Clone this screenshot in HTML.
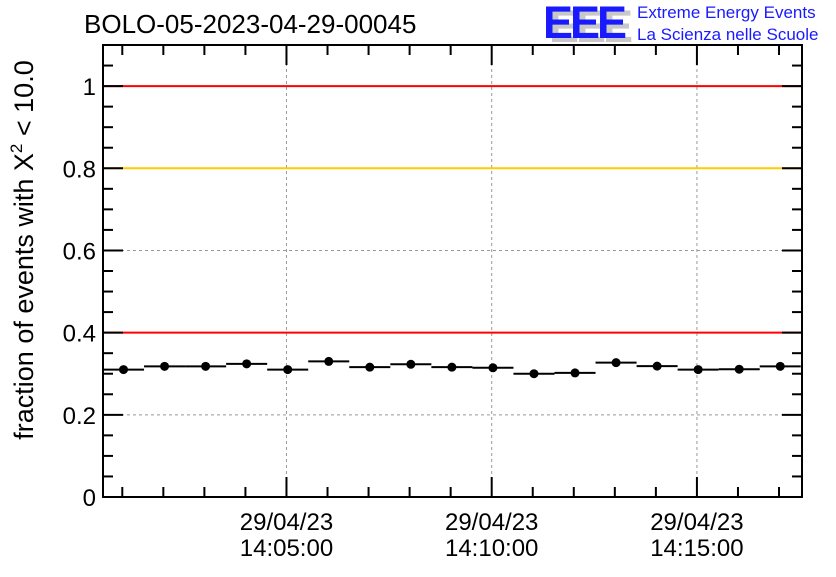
<!DOCTYPE html>
<html><head><meta charset="utf-8"><style>
body{margin:0;background:#fff;}
svg text{font-family:"Liberation Sans",Arial,sans-serif;}
</style></head><body>
<svg id="c" width="836" height="572" xmlns="http://www.w3.org/2000/svg">
<rect width="836" height="572" fill="#fff"/>
<text x="84" y="33" font-size="26">BOLO-05-2023-04-29-00045</text>
<g>
<text x="549" y="42" font-size="45" font-weight="bold" fill="#c8c8c8" letter-spacing="-3">EEE</text>
<text x="543" y="38" font-size="45" font-weight="bold" fill="#1a1aff" letter-spacing="-3">EEE</text>
<text x="637" y="18" font-size="17" fill="#1a1aff">Extreme Energy Events</text>
<text x="637" y="40" font-size="17" fill="#1a1aff">La Scienza nelle Scuole</text>
</g>
<g id="grid"></g>
<g id="lines"></g>
<g id="axes"></g>
<g id="marks"></g>
<text transform="translate(33,250) rotate(-90)" text-anchor="middle" font-size="27">fraction of events with X<tspan dy="-11" font-size="17">2</tspan><tspan dy="11"> &lt; 10.0</tspan></text>
</svg>
<script>
const minutes=[0,1,2,3,4,5,6,7,8,9,10,11,12,13,14,15,16];
const values=[0.310,0.318,0.318,0.324,0.310,0.330,0.316,0.323,0.316,0.3145,0.300,0.302,0.327,0.3185,0.310,0.311,0.318];
const yTicks=[0,0.2,0.4,0.6,0.8,1];
const yTickLabels=["0","0.2","0.4","0.6","0.8","1"];
const xTickMinutes=[5,10,15];
const xTickLabels=[["29/04/23","14:05:00"],["29/04/23","14:10:00"],["29/04/23","14:15:00"]];
const refLines=[1,0.8,0.4];
const refColors=["#ff0000","#ffcc00","#ff0000"];
const L=103,R=802,T=45,B=497;
const x0min=0.53,x1min=17.56;
function X(m){return L+(m-x0min)/(x1min-x0min)*(R-L);}
function Y(v){return B-v/1.1*(B-T);}
const ns="http://www.w3.org/2000/svg";
function mk(tag,a,p){const e=document.createElementNS(ns,tag);for(const k in a)e.setAttribute(k,a[k]);p.appendChild(e);return e;}
const grid=document.getElementById('grid'),lines=document.getElementById('lines'),axes=document.getElementById('axes'),marks=document.getElementById('marks');
xTickMinutes.forEach(m=>{const l=mk('line',{x1:X(m),x2:X(m),y1:T,y2:B,stroke:'#999','stroke-dasharray':'3,3','stroke-width':1},grid);

});
yTicks.forEach(v=>{if(v>0){const l=mk('line',{x1:L,x2:R,y1:Y(v),y2:Y(v),stroke:'#999','stroke-dasharray':'3,3','stroke-width':1},grid);

}});
refLines.forEach((v,i)=>{const l=mk('line',{x1:L,x2:R,y1:Y(v),y2:Y(v),stroke:refColors[i],'stroke-width':2},lines);

});
const fr=mk('rect',{x:L,y:T,width:R-L,height:B-T,fill:'none',stroke:'#000','stroke-width':2},axes);


for(let k=0;k<=22;k++){const v=k*0.05;const y=Y(v);const len=(k%4==0)?20:10;
mk('line',{x1:L,x2:L+len,y1:y,y2:y,stroke:'#000','stroke-width':2},axes);
mk('line',{x1:R,x2:R-len,y1:y,y2:y,stroke:'#000','stroke-width':2},axes);}
yTicks.forEach((v,i)=>{const t=mk('text',{x:L-7,y:Y(v)+9,'text-anchor':'end','font-size':24},axes);t.textContent=yTickLabels[i];

});
for(let m=1;m<=17;m++){const x=X(m);const len=(m%5==0)?20:10;
mk('line',{x1:x,x2:x,y1:B,y2:B-len,stroke:'#000','stroke-width':2},axes);
mk('line',{x1:x,x2:x,y1:T,y2:T+len,stroke:'#000','stroke-width':2},axes);}
xTickMinutes.forEach((m,i)=>{[0,1].forEach(j=>{const t=mk('text',{x:X(m),y:530+j*26,'text-anchor':'middle','font-size':24},axes);t.textContent=xTickLabels[i][j];

});});
minutes.forEach((m,i)=>{const xc=X(m+1.03);const y=Y(values[i]);
const e=mk('line',{x1:X(m+0.53),x2:X(m+1.53),y1:y,y2:y,stroke:'#000','stroke-width':2},marks);


const p=mk('circle',{cx:xc,cy:y,r:4.5,fill:'#000'},marks);

});
</script>
</body></html>
